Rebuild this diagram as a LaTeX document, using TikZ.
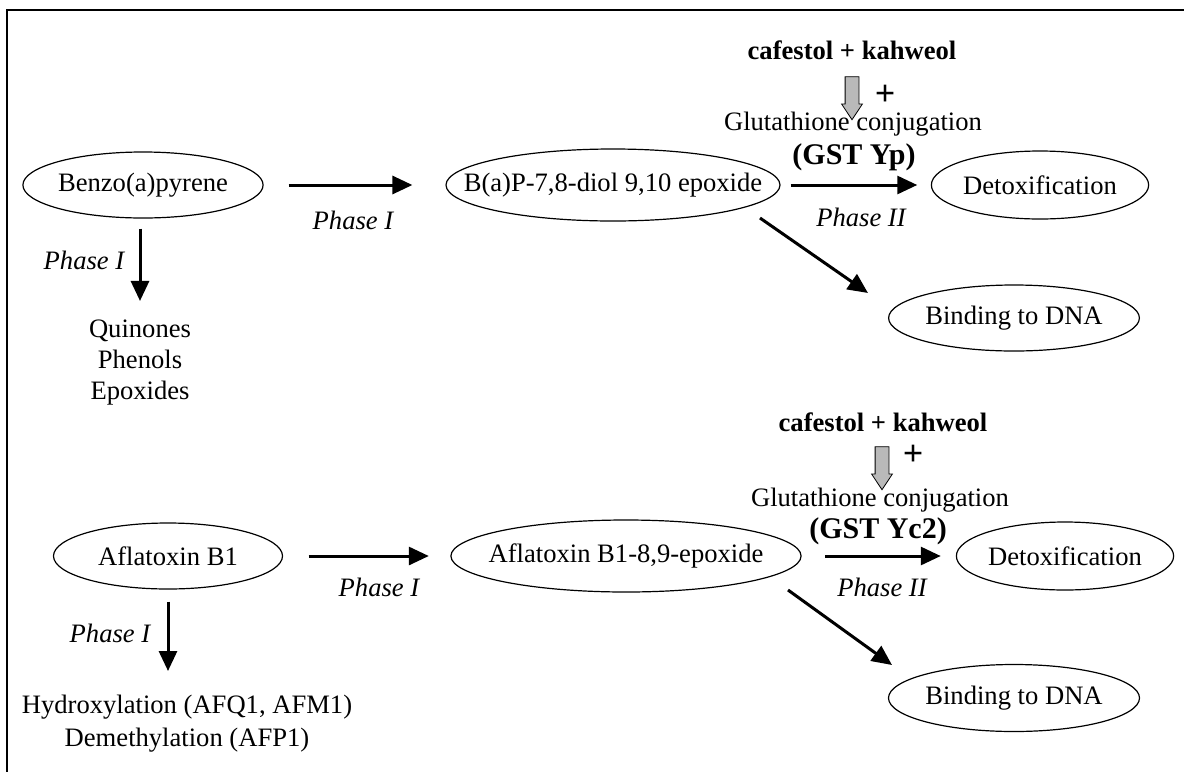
\documentclass[tikz,border=0pt]{standalone}
\usepackage{fontspec}
\setmainfont{Liberation Serif}
\usetikzlibrary{shapes.geometric,shapes.arrows,arrows.meta,positioning}

\begin{document}
\begin{tikzpicture}[x=0.5pt,y=-0.5pt,
  font=\fontsize{13.3}{15.5}\selectfont,
  compound/.style={ellipse,draw,line width=0.6pt,inner sep=0pt},
  phase/.style={font=\fontsize{13.3}{15.5}\selectfont\itshape},
  enzyme/.style={font=\fontsize{15}{17}\selectfont\bfseries},
  agent/.style={font=\fontsize{13.3}{15.5}\selectfont\bfseries},
  plussign/.style={font=\fontsize{18}{20}\selectfont\bfseries,inner sep=0pt},
  flow/.style={line width=1.5pt,-{Triangle[length=10pt,width=9pt]}},
  cofactor/.style={single arrow,draw,fill=gray!55,line width=0.4pt,inner sep=3.25pt,
    minimum height=21.5pt,single arrow head extend=1.75pt,single arrow tip angle=67,
    shape border rotate=270}]
\useasboundingbox (0,0) rectangle (1184,772);
\draw[line width=1pt] (1184,10) -- (7,10) -- (7,772);

% benzo(a)pyrene pathway
\node [compound, minimum width=115pt, minimum height=33pt] (benzo) at (143,185) {Benzo(a)pyrene};
\node [compound, inner xsep=-16pt, minimum width=167pt, minimum height=36pt] (bapdiol) at (613,185) {B(a)P-7,8-diol 9,10 epoxide};
\node [compound, minimum width=106.5pt, minimum height=34pt] (detoxa) at (1040,185) {Detoxification};
\node [compound, minimum width=125pt, minimum height=33pt] (binda) at (1014,318) {Binding to DNA};
\node [align=center, inner sep=0pt] (quin) at (140,363) {Quinones\\Phenols\\Epoxides};
\node [agent] (cafea) at (852,50) {cafestol + kahweol};
\node [cofactor] (gsta) at (852,93) {};
\node [plussign] (plusa) at (885,95) {+};
\node (gluta) at (853,124) {Glutathione conjugation};
\node [enzyme] (ypa) at (854,157) {(GST Yp)};
\node [phase] (pha) at (353,220) {Phase I};
\node [phase] (phb) at (84,260) {Phase I};
\node [phase] (phc) at (861,217) {Phase II};
\coordinate (diaga) at (760,218);
\coordinate (diagb) at (868,293);

\draw [flow, shorten <=12.5pt, shorten >=16.5pt] (benzo.east) -- (bapdiol.west);
\draw [flow, shorten <=5pt, shorten >=6.75pt] (bapdiol.east) -- (detoxa.west);
\draw [flow, shorten <=5pt, shorten >=9.5pt] (benzo.south -| quin.north) -- (quin.north);
\draw [flow] (diaga) -- (diagb);

% aflatoxin B1 pathway
\node [compound, minimum width=114.5pt, minimum height=33pt] (afla) at (168,556) {Aflatoxin B1};
\node [compound, inner xsep=-6.8pt, minimum width=164.5pt, minimum height=36pt] (aflaepo) at (626,556) {Aflatoxin B1-8,9-epoxide};
\node [compound, minimum width=106pt, minimum height=34pt] (detoxb) at (1065,556) {Detoxification};
\node [compound, minimum width=125.5pt, minimum height=33.5pt] (bindb) at (1014,698) {Binding to DNA};
\node [align=center, inner sep=0pt] (hydro) at (187,724) {Hydroxylation (AFQ1, AFM1)\\[1pt]Demethylation (AFP1)};
\node [agent] (cafeb) at (883,422) {cafestol + kahweol};
\node [cofactor] (gstb) at (882,463) {};
\node [plussign] (plusb) at (913,455) {+};
\node (glutb) at (880,500) {Glutathione conjugation};
\node [enzyme] (ycb) at (878,531) {(GST Yc2)};
\node [phase] (phd) at (379,587) {Phase I};
\node [phase] (phe) at (110,633) {Phase I};
\node [phase] (phf) at (882,587) {Phase II};
\coordinate (diagc) at (788,590);
\coordinate (diagd) at (892,665);

\draw [flow, shorten <=12.75pt, shorten >=10.75pt] (afla.east) -- (aflaepo.west);
\draw [flow, shorten <=11.75pt, shorten >=7.5pt] (aflaepo.east) -- (detoxb.west);
\draw [flow, shorten <=6pt, shorten >=12pt] (afla.south) -- (afla.south |- hydro.north);
\draw [flow] (diagc) -- (diagd);
\end{tikzpicture}
\end{document}
